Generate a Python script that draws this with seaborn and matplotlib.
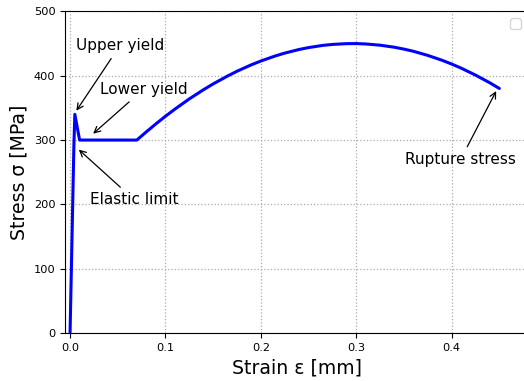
import numpy as np
import pandas as pd
import matplotlib
matplotlib.use("Agg")
import matplotlib.pyplot as plt
import seaborn as sns

# stress-strain curve, values
strain = [0.0, 0.004, 0.005, 0.01, 0.07, 0.08, 0.09, 0.1, 0.11, 0.125, 0.14,
          0.15, 0.165, 0.175, 0.19, 0.2, 0.215, 0.225, 0.24, 0.25, 0.265,
          0.275, 0.29, 0.3, 0.31, 0.325, 0.34, 0.35, 0.36, 0.375, 0.39,
          0.4, 0.41, 0.425, 0.44, 0.45]
stress = [0, 290, 340, 300, 300, 312.8, 325.2, 337.0, 348.2, 364.0, 378.4,
          387.3, 399.5, 407.0, 417.0, 422.9, 430.7, 435.2, 440.8, 443.8, 447.2,
          448.7, 449.9, 450.0, 449.4, 447.5, 444.3, 441.4, 438.0, 431.6, 424.0,
          418.2, 411.8, 401.0, 389.0, 380.2]

# annotations: label, point, text position
notes = ["Upper yield", "Lower yield", "Elastic limit", "Rupture stress"]
note_xy = [(0.005, 342), (0.022, 307), (0.007, 288), (0.448, 380)]
note_text = [(0.006, 440), (0.031, 372), (0.021, 200), (0.351, 262)]

sns.set_style("ticks")
plt.rcParams['font.family'] = ['DejaVu Sans']
plt.rcParams['text.color'] = 'black'
plt.rcParams['axes.labelcolor'] = 'black'
plt.rcParams['xtick.color'] = 'black'
plt.rcParams['ytick.color'] = 'black'

df = pd.DataFrame({"strain": strain, "stress": stress})

fig = plt.figure(figsize=(5.24, 3.81), dpi=100)
ax = fig.add_axes([0.1246, 0.126, 0.883, 0.844])

sns.lineplot(data=df, x="strain", y="stress", sort=False, estimator=None,
             color="#0000ff", linewidth=2.2, ax=ax)

for label, xy, xyt in zip(notes, note_xy, note_text):
    ax.annotate(label, xy=xy, xytext=xyt, fontsize=11, color="black",
                arrowprops=dict(arrowstyle="->", color="black", lw=0.9))

ax.set_xlim(-0.005, 0.48)
ax.set_ylim(0, 500)
ax.set_xticks([0.0, 0.1, 0.2, 0.3, 0.4])
ax.set_yticks([0, 100, 200, 300, 400, 500])
ax.tick_params(labelsize=8.2, length=3.5, width=0.8)
ax.grid(True, linestyle=":", color="#aaaaaa", linewidth=0.9)
for s in ax.spines.values():
    s.set_linewidth(0.8)
    s.set_color("black")

ax.set_xlabel("Strain ε [mm]", fontsize=13.6)
ax.set_ylabel("Stress σ [MPa]", fontsize=13.6)
ax.legend(handles=[], loc="upper right")

fig.savefig("out.png", dpi=100)
